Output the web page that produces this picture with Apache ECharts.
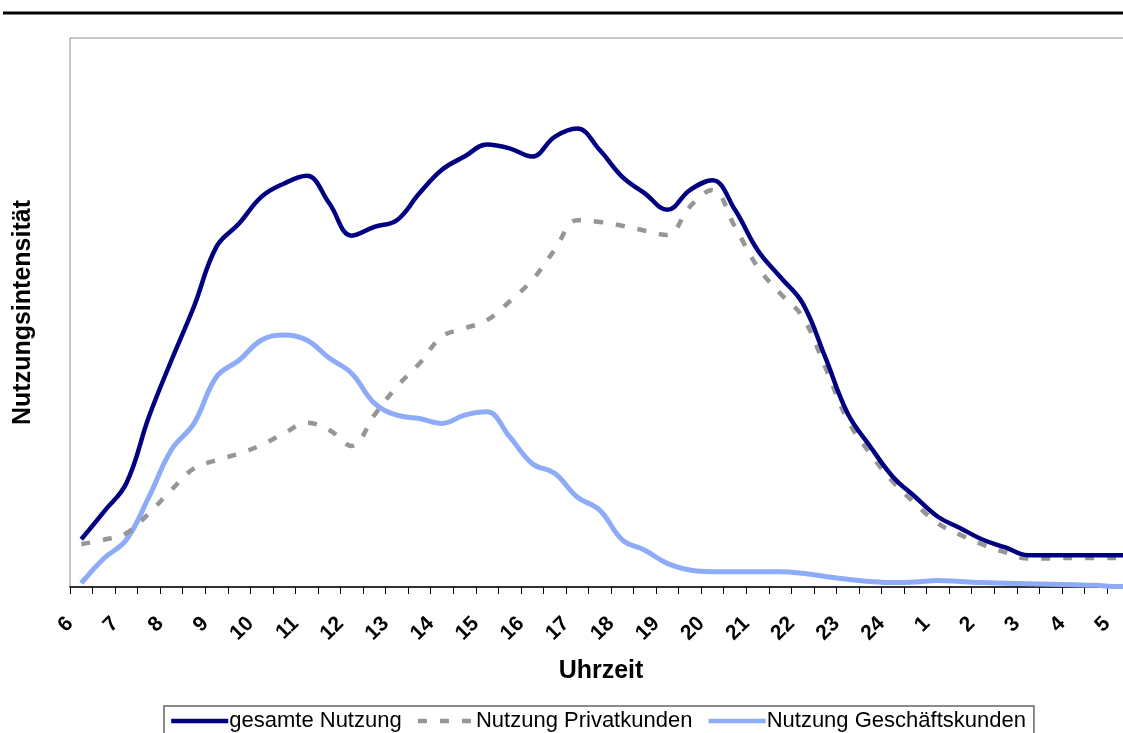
<!DOCTYPE html>
<html>
<head>
<meta charset="utf-8">
<script src="https://cdn.jsdelivr.net/npm/echarts@6/dist/echarts.min.js"></script>
<style>
  html, body { margin: 0; padding: 0; background: #fff; overflow: hidden; }
  #chart { width: 1160px; height: 733px; }
</style>
</head>
<body>
<div id="chart"></div>
<script>
// hour labels on the axis, one per two half-hour slots
const hourLabels = ['6', '7', '8', '9', '10', '11', '12', '13', '14', '15', '16', '17',
  '18', '19', '20', '21', '22', '23', '24', '1', '2', '3', '4', '5']

// half-hour slots: '6', '6:30', '7', ...
const slots = []
hourLabels.forEach((h) => { slots.push(h); slots.push(h + ':30') })

// Nutzungsintensitaet (relative, 0..100)
const gesamt = [8.7, 13.7, 18.9, 31.0, 41.3, 51.1, 62.0, 66.2, 71.1, 73.5, 74.9, 69.9,
  64.0, 65.6, 66.8, 71.7, 76.0, 78.4, 80.6, 79.9, 78.4, 82.0, 83.5, 79.6,
  74.7, 71.7, 68.7, 72.3, 74.1, 68.7, 61.4, 56.5, 51.7, 41.9, 31.6, 25.6,
  20.1, 16.4, 12.8, 10.7, 8.6, 7.2, 5.8, 5.8, 5.8, 5.8, 5.8, 5.8]

const privat = [7.8, 8.6, 9.8, 13.4, 17.7, 21.6, 23.1, 24.3, 25.9, 28.0, 29.9, 28.6,
  25.7, 31.3, 36.5, 40.7, 45.6, 47.1, 48.6, 52.0, 55.9, 61.4, 66.8, 66.5,
  65.8, 64.9, 64.1, 69.3, 72.3, 65.6, 58.3, 53.5, 49.2, 40.1, 30.4, 24.3,
  19.2, 15.2, 11.6, 9.5, 7.7, 6.3, 5.2, 5.2, 5.3, 5.3, 5.3, 5.3]

const geschaeft = [0.7, 5.2, 8.6, 16.4, 25.0, 29.8, 38.3, 41.3, 45.0, 45.9, 45.0, 41.7,
  38.9, 33.5, 31.3, 30.7, 29.8, 31.3, 31.9, 27.4, 22.5, 20.7, 16.4, 14.0,
  8.6, 6.7, 4.3, 3.1, 2.8, 2.8, 2.8, 2.8, 2.5, 1.9, 1.4, 1.0,
  0.8, 0.9, 1.2, 1.0, 0.8, 0.7, 0.6, 0.5, 0.4, 0.3, 0.1, 0.1]

const font = 'Liberation Sans, Arial, Helvetica, sans-serif'

const chart = echarts.init(document.getElementById('chart'))

chart.setOption({
  animation: false,
  backgroundColor: '#fff',
  textStyle: { fontFamily: font, color: '#000' },
  graphic: [{
    type: 'line',
    shape: { x1: 3, y1: 13, x2: 1160, y2: 13 },
    style: { stroke: '#000', lineWidth: 3 },
  }],
  grid: {
    show: true,
    borderColor: '#8c8c8c',
    borderWidth: 1,
    left: 70,
    top: 38,
    width: 1082,
    height: 549,
  },
  legend: {
    left: 164,
    top: 706,
    orient: 'horizontal',
    padding: [4, 8, 20, 5],
    borderColor: '#666',
    borderWidth: 1.5,
    itemWidth: 57,
    itemHeight: 14,
    itemGap: 14,
    itemStyle: { opacity: 0 },
    lineStyle: { width: 4.5 },
    textStyle: { fontFamily: font, fontSize: 22, color: '#000', padding: [0, 0, 0, -4] },
    data: ['gesamte Nutzung', 'Nutzung Privatkunden', 'Nutzung Geschäftskunden'],
  },
  xAxis: {
    type: 'category',
    data: slots,
    boundaryGap: true,
    name: 'Uhrzeit',
    nameLocation: 'middle',
    nameGap: 72,
    nameTextStyle: { fontFamily: font, fontSize: 25, fontWeight: 'bold', color: '#000', padding: [0, 20, 0, 0] },
    axisLine: { lineStyle: { color: '#000', width: 1.5 } },
    axisTick: { show: true, interval: 0, length: 7, lineStyle: { color: '#000' } },
    axisLabel: {
      interval: 1,
      rotate: 45,
      margin: 22,
      padding: [0, 16, 0, 0],
      fontFamily: font,
      fontSize: 21,
      fontWeight: 'bold',
      color: '#000',
    },
    splitLine: { show: false },
  },
  yAxis: {
    type: 'value',
    min: 0,
    max: 100,
    name: 'Nutzungsintensität',
    nameLocation: 'middle',
    nameGap: 34,
    nameTextStyle: { fontFamily: font, fontSize: 25, fontWeight: 'bold', color: '#000' },
    axisLine: { show: false },
    axisTick: { show: false },
    axisLabel: { show: false },
    splitLine: { show: false },
  },
  series: [
    {
      name: 'gesamte Nutzung',
      type: 'line',
      data: gesamt,
      smooth: 0.4,
      symbol: 'none',
      z: 4,
      itemStyle: { color: '#000080' },
      lineStyle: { color: '#000080', width: 4.5 },
    },
    {
      name: 'Nutzung Privatkunden',
      type: 'line',
      data: privat,
      smooth: 0.4,
      symbol: 'none',
      z: 3,
      itemStyle: { color: '#969696' },
      lineStyle: { color: '#969696', width: 4.5, type: [9, 13], cap: 'butt' },
    },
    {
      name: 'Nutzung Geschäftskunden',
      type: 'line',
      data: geschaeft,
      smooth: 0.4,
      symbol: 'none',
      z: 2,
      itemStyle: { color: '#8eabf8' },
      lineStyle: { color: '#8eabf8', width: 5 },
    },
  ],
})
</script>
</body>
</html>
